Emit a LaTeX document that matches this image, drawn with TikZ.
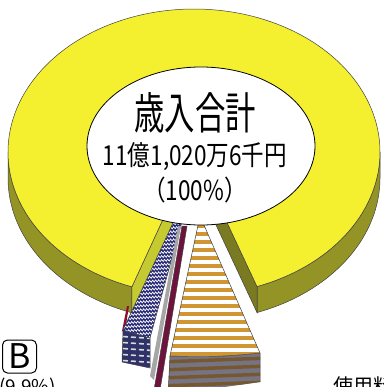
\documentclass[tikz,border=0pt]{standalone}
\usepackage{fontspec}
\newfontfamily\jpfont{Noto Sans CJK JP}
\usetikzlibrary{positioning,decorations.pathmorphing}
\definecolor{pietop}{RGB}{244,240,48}
\definecolor{pieside}{RGB}{148,148,38}
\definecolor{cutlight}{RGB}{196,202,48}
\definecolor{cutdark}{RGB}{122,122,34}
\definecolor{wavyblue}{RGB}{42,44,120}
\definecolor{brickblue}{RGB}{46,50,104}
\definecolor{wine}{RGB}{110,20,60}
\definecolor{stripe}{RGB}{208,150,52}
\definecolor{sidebrown}{RGB}{118,88,48}
\definecolor{sidegray}{RGB}{118,116,132}
\tikzset{
  rim/.style={draw=black!75,line width=0.5pt},
  jptext/.style={font=\jpfont,inner sep=0pt}
}
\begin{document}
\begin{tikzpicture}[x=1pt,y=-1pt,node distance=44pt]
    \clip (0,0) rectangle (383,387);
    \coordinate (c) at (194,152);
    \coordinate (c2) at (194,178);
    \coordinate (cl) at (131.9,286.8);
    \coordinate (cl2) at (131.9,312.8);
    \coordinate (cr) at (257.0,286.5);
    \coordinate (cr2) at (257.0,312.5);

    % rim of the big slice
    \filldraw[fill=pieside,rim] plot[domain=109.5:180,samples=40] ({194+186*cos(\x)},{152+143*sin(\x)})
      -- plot[domain=180:109.5,samples=40] ({194+186*cos(\x)},{178+143*sin(\x)}) -- cycle;
    \filldraw[fill=pieside,rim] plot[domain=0:70.2,samples=40] ({194+186*cos(\x)},{152+143*sin(\x)})
      -- plot[domain=70.2:0,samples=40] ({194+186*cos(\x)},{178+143*sin(\x)}) -- cycle;
    % cut faces
    \filldraw[fill=cutlight,rim] (c) -- (cl) -- (cl2) -- (c2) -- cycle;
    \filldraw[fill=cutdark,rim] (c) -- (cr) -- (cr2) -- (c2) -- cycle;
    % top of the big slice
    \filldraw[fill=pietop,rim] (c) -- plot[domain=109.5:430.2,samples=150] ({194+186*cos(\x)},{152+143*sin(\x)}) -- cycle;

    % small red sliver
    \filldraw[fill=wine!80!red,draw=none] (127,306) -- (129,306) -- (125,331) -- (122,331) -- cycle;

    % blue slice
    \coordinate (b0) at (194,178);
    \coordinate (b1) at (123,330);
    \coordinate (b2) at (150,338);
    \coordinate (b3) at (150,368);
    \coordinate (b4) at (122,362);
    \begin{scope}
      \clip (b1) -- (b2) -- (b3) -- (b4) -- cycle;
      \fill[brickblue] (110,325) rectangle (160,375);
      \foreach \y in {336,342,...,366}
        \draw[white!70!gray,line width=1.6pt,dash pattern=on 5pt off 3pt] (115,\y) -- (160,\y+3);
    \end{scope}
    \draw[rim] (b1) -- (b2) -- (b3) -- (b4) -- cycle;
    \begin{scope}
      \clip (b0) -- (b1) -- (b2) -- cycle;
      \fill[wavyblue] (110,170) rectangle (200,345);
      \foreach \y in {180,184,...,344}
        \draw[white,line width=0.7pt,decorate,decoration={zigzag,segment length=3pt,amplitude=1pt}] (110,\y) -- (200,\y-6);
    \end{scope}
    \draw[rim] (b0) -- (b1) -- (b2) -- cycle;

    % thin wine slice
    \filldraw[fill=gray!70,draw=none] (178,226) -- (181,226) -- (154,380) -- (150,376) -- cycle;
    \filldraw[fill=wine,rim] (182,226) -- (187,226) -- (160,390) -- (154,390) -- cycle;

    % orange slice
    \coordinate (o0) at (200,216);
    \coordinate (o1) at (260,353);
    \coordinate (o2) at (170,356);
    \begin{scope}
      \clip (o1) to[bend left=4] (o2) -- (168,395) -- (260,382) -- cycle;
      \fill[sidegray] (160,345) rectangle (270,395);
      \foreach \y in {362,370,...,394}
        \draw[sidebrown,line width=3.5pt] (160,\y) -- (270,\y-4);
    \end{scope}
    \draw[rim] (o1) to[bend left=4] (o2) -- (168,395) (260,382) -- (o1);
    \begin{scope}
      \clip (o0) -- (o1) to[bend left=4] (o2) -- cycle;
      \fill[white] (160,210) rectangle (270,365);
      \foreach \y in {224,232,...,360}
        \fill[stripe] (160,\y) rectangle (270,\y+3.5);
    \end{scope}
    \draw[rim] (o0) -- (o1) to[bend left=4] (o2) -- cycle;

    % label in the middle
    \filldraw[fill=white,draw=black,line width=0.8pt] (201,146) ellipse (114 and 79);
    \node[jptext] (title) at (195,113) {\fontsize{44}{44}\selectfont\scalebox{0.69}[1]{歳入合計}};
    \node[jptext,below of=title] (amount) {\fontsize{27.5}{27.5}\selectfont\scalebox{0.82}[1]{11億1,020万6千円}};
    \node[jptext,below of=amount,node distance=33pt] (share) {\fontsize{27.5}{27.5}\selectfont\scalebox{0.82}[1]{（100\%）}};

    % B tag and texts cut off at the bottom
    \node[jptext,draw,line width=1pt,rounded corners=5pt,minimum width=34pt,minimum height=33pt] (tagb) at (19.5,356.5) {\fontsize{34}{34}\selectfont B};
    \node[jptext,anchor=north west] (pctb) at (-1,378) {\fontsize{19}{19}\selectfont (9.9\%)};
    \node[jptext,anchor=north west] (fees) at (333,376) {\fontsize{20}{20}\selectfont 使用料};
\end{tikzpicture}
\end{document}
